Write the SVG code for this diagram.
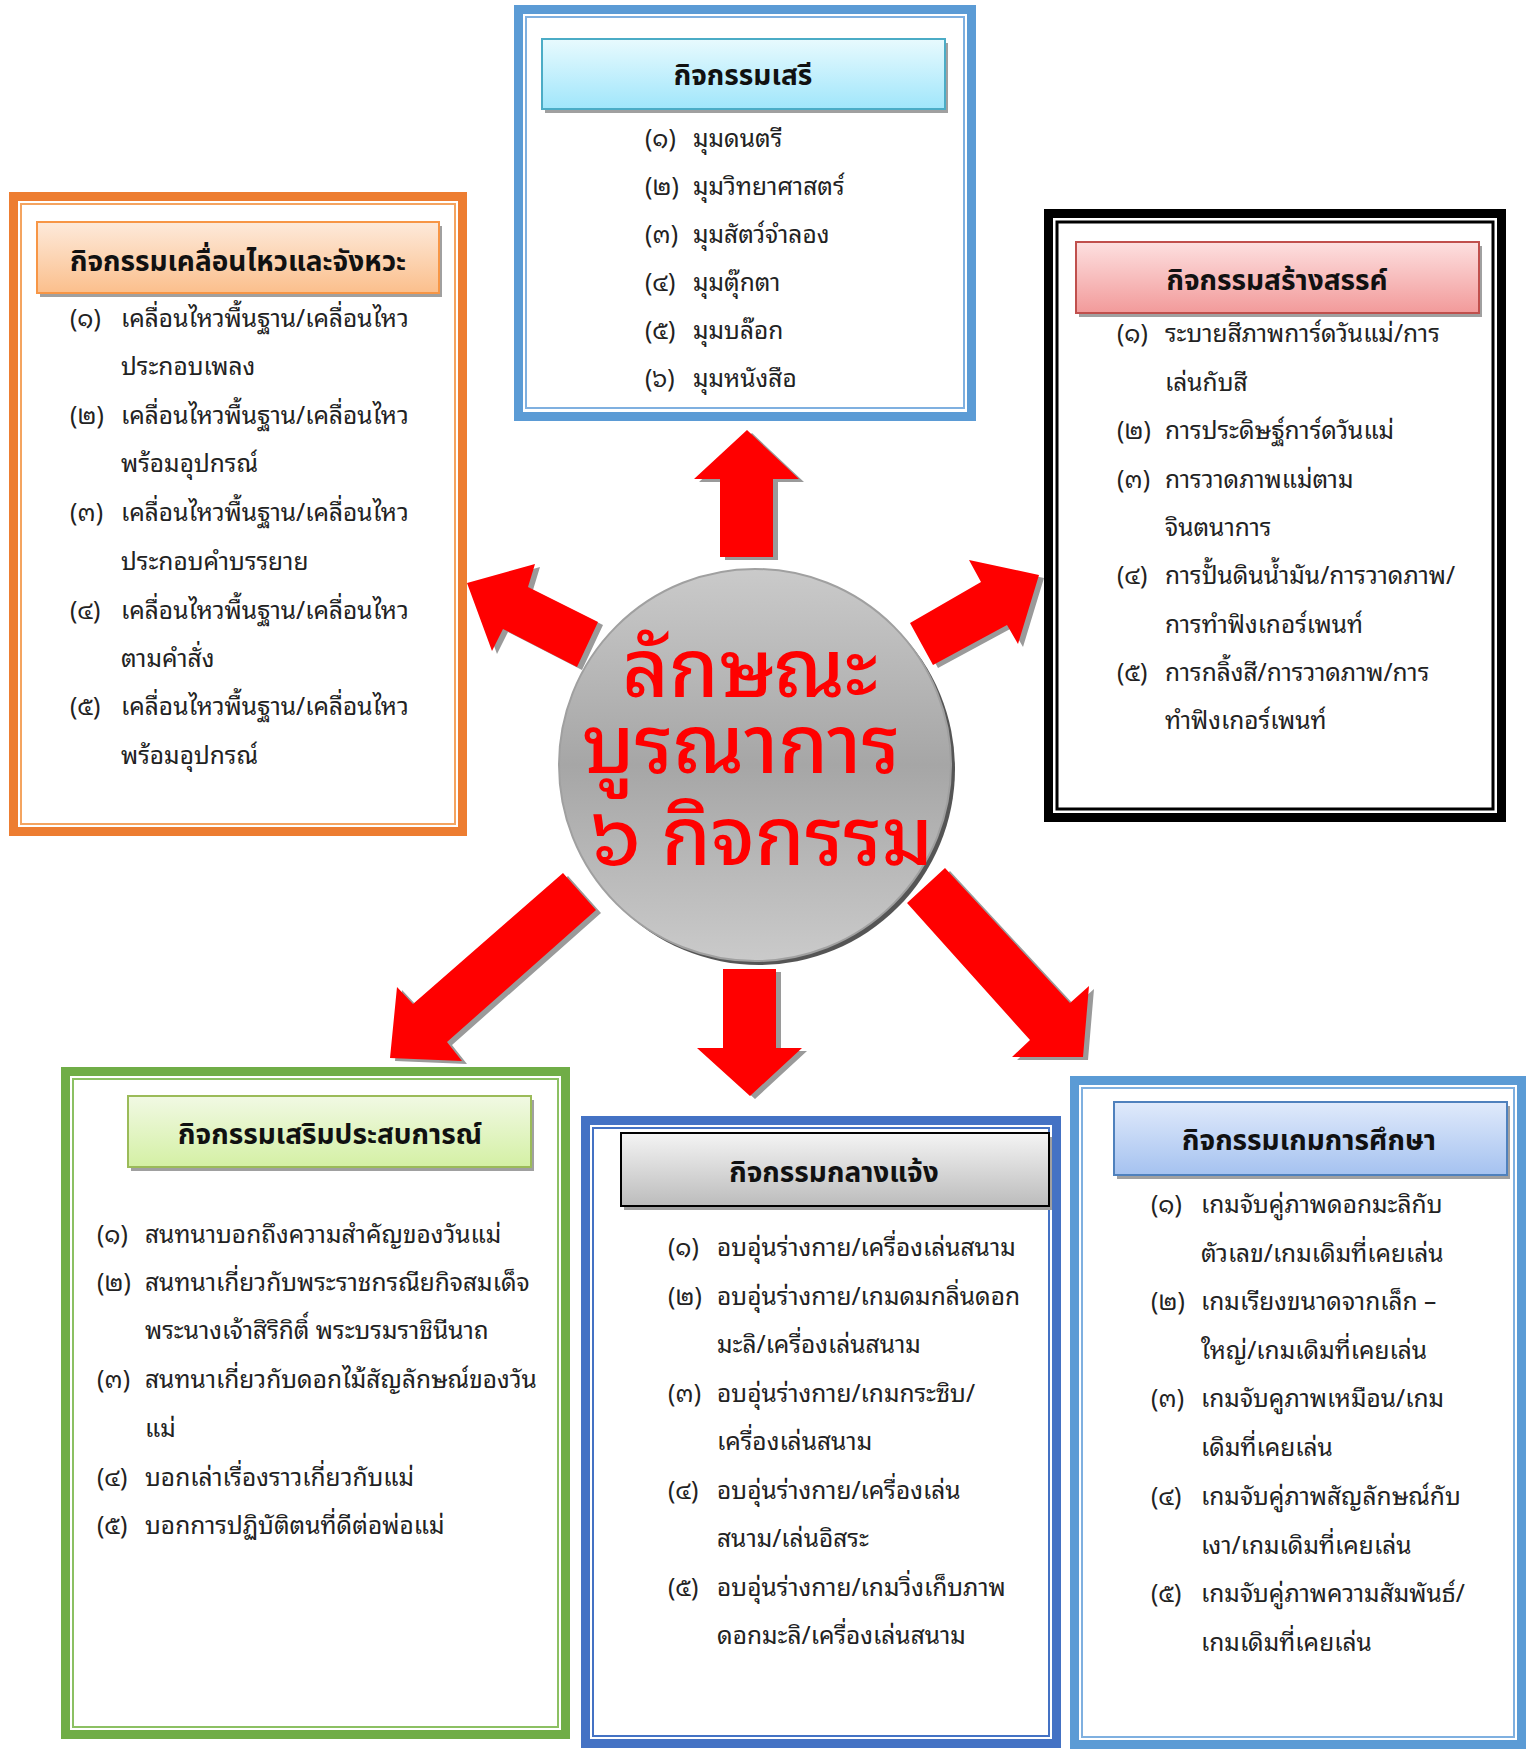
<svg xmlns="http://www.w3.org/2000/svg" width="1527" height="1752" viewBox="0 0 1527 1752">
<defs>
<linearGradient id="gCyan" x1="0" y1="0" x2="0" y2="1"><stop offset="0" stop-color="#e8fafe"/><stop offset="1" stop-color="#a0e6fb"/></linearGradient>
<linearGradient id="gOrange" x1="0" y1="0" x2="0" y2="1"><stop offset="0" stop-color="#fdeadb"/><stop offset="1" stop-color="#fbbf8c"/></linearGradient>
<linearGradient id="gRed" x1="0" y1="0" x2="0" y2="1"><stop offset="0" stop-color="#fde0e0"/><stop offset="1" stop-color="#f29a9a"/></linearGradient>
<linearGradient id="gGreen" x1="0" y1="0" x2="0" y2="1"><stop offset="0" stop-color="#f1f9e4"/><stop offset="1" stop-color="#d4f0a4"/></linearGradient>
<linearGradient id="gGray" x1="0" y1="0" x2="0" y2="1"><stop offset="0" stop-color="#f4f4f4"/><stop offset="1" stop-color="#bcbcbc"/></linearGradient>
<linearGradient id="gBlue" x1="0" y1="0" x2="0" y2="1"><stop offset="0" stop-color="#e0eafb"/><stop offset="1" stop-color="#a5c2f0"/></linearGradient>
<linearGradient id="gCircle" x1="0" y1="0" x2="0" y2="1"><stop offset="0" stop-color="#cacaca"/><stop offset="0.5" stop-color="#a6a6a6"/><stop offset="1" stop-color="#cacaca"/></linearGradient>
</defs>
<style>
.hd{font-family:"Noto Sans Thai","Noto Sans Thai Looped","Noto Sans",sans-serif;font-weight:bold;font-size:28px;fill:#111;text-anchor:middle}
.it{font-family:"Noto Sans Thai Looped","Noto Sans Thai","Noto Sans",sans-serif;font-size:24.5px;fill:#222}
.ctr{font-family:"Noto Sans Thai Looped","Noto Sans Thai","Noto Sans",sans-serif;font-weight:500;font-size:80px;fill:#ff0000;text-anchor:middle}
.arrow{fill:#ff0000}
.ashadow{fill:#9a9a9a}
.hshadow{fill:#a0a0a0}
</style>

<g id="connectors">
  <g transform="translate(5,3)" class="ashadow">
    <polygon points="747,430 799,479 773,479 773,557 720,557 720,479 694,479"/>
    <polygon points="467,583 535,564 528,587 598,622 577,667 503,629 492,651"/>
    <polygon points="1039,575 1018,644 1007,625 933,665 910,623 981,582 969,560"/>
    <polygon points="563,873 596,910 447,1042 462,1061 390,1058 397,987 413,1004"/>
    <polygon points="723,969 776,969 776,1048 802,1048 750,1096 697,1048 723,1048"/>
    <polygon points="945,868 1070,1003 1089,986 1083,1057 1012,1057 1030,1040 907,903"/>
  </g>
  <g class="arrow">
    <polygon points="747,430 799,479 773,479 773,557 720,557 720,479 694,479"/>
    <polygon points="467,583 535,564 528,587 598,622 577,667 503,629 492,651"/>
    <polygon points="1039,575 1018,644 1007,625 933,665 910,623 981,582 969,560"/>
    <polygon points="563,873 596,910 447,1042 462,1061 390,1058 397,987 413,1004"/>
    <polygon points="723,969 776,969 776,1048 802,1048 750,1096 697,1048 723,1048"/>
    <polygon points="945,868 1070,1003 1089,986 1083,1057 1012,1057 1030,1040 907,903"/>
  </g>
</g>

<g id="center">
  <circle cx="759" cy="769" r="196" fill="#555"/>
  <circle cx="755" cy="765" r="196" fill="url(#gCircle)" stroke="#a0a0a0" stroke-width="2"/>
  <text class="ctr" x="750" y="697">ลักษณะ</text>
  <text class="ctr" x="741" y="773">บูรณาการ</text>
  <text class="ctr" x="762" y="865">๖ กิจกรรม</text>
</g>

<g id="free">
  <rect x="518.5" y="9.5" width="453" height="407" fill="#fff" stroke="#5b9bd5" stroke-width="9"/>
  <rect x="526" y="17" width="438" height="391" fill="none" stroke="#7fb0e0" stroke-width="2"/>
  <rect x="545" y="43" width="403" height="70" class="hshadow"/>
  <rect x="542" y="39" width="403" height="70" fill="url(#gCyan)" stroke="#4bacc6" stroke-width="2"/>
  <text class="hd" x="743" y="85">กิจกรรมเสรี</text>
  <text class="it" y="147"><tspan x="645">(๑)</tspan><tspan x="693">มุมดนตรี</tspan></text>
  <text class="it" y="195"><tspan x="645">(๒)</tspan><tspan x="693">มุมวิทยาศาสตร์</tspan></text>
  <text class="it" y="243"><tspan x="645">(๓)</tspan><tspan x="693">มุมสัตว์จำลอง</tspan></text>
  <text class="it" y="291"><tspan x="645">(๔)</tspan><tspan x="693">มุมตุ๊กตา</tspan></text>
  <text class="it" y="339"><tspan x="645">(๕)</tspan><tspan x="693">มุมบล๊อก</tspan></text>
  <text class="it" y="387"><tspan x="645">(๖)</tspan><tspan x="693">มุมหนังสือ</tspan></text>
</g>

<g id="movement">
  <rect x="13.5" y="196.5" width="449" height="635" fill="#fff" stroke="#ed7d31" stroke-width="9"/>
  <rect x="21" y="204" width="434" height="620" fill="none" stroke="#f4a460" stroke-width="2"/>
  <rect x="40" y="226" width="402" height="71" class="hshadow"/>
  <rect x="37" y="222" width="402" height="71" fill="url(#gOrange)" stroke="#f79646" stroke-width="2"/>
  <text class="hd" x="238" y="271">กิจกรรมเคลื่อนไหวและจังหวะ</text>
  <text class="it" y="327"><tspan x="70">(๑)</tspan><tspan x="121">เคลื่อนไหวพื้นฐาน/เคลื่อนไหว</tspan></text>
  <text class="it" y="375" x="121">ประกอบเพลง</text>
  <text class="it" y="424"><tspan x="70">(๒)</tspan><tspan x="121">เคลื่อนไหวพื้นฐาน/เคลื่อนไหว</tspan></text>
  <text class="it" y="472" x="121">พร้อมอุปกรณ์</text>
  <text class="it" y="521"><tspan x="70">(๓)</tspan><tspan x="121">เคลื่อนไหวพื้นฐาน/เคลื่อนไหว</tspan></text>
  <text class="it" y="570" x="121">ประกอบคำบรรยาย</text>
  <text class="it" y="619"><tspan x="70">(๔)</tspan><tspan x="121">เคลื่อนไหวพื้นฐาน/เคลื่อนไหว</tspan></text>
  <text class="it" y="667" x="121">ตามคำสั่ง</text>
  <text class="it" y="715"><tspan x="70">(๕)</tspan><tspan x="121">เคลื่อนไหวพื้นฐาน/เคลื่อนไหว</tspan></text>
  <text class="it" y="764" x="121">พร้อมอุปกรณ์</text>
</g>

<g id="creative">
  <rect x="1048.5" y="213.5" width="453" height="604" fill="#fff" stroke="#000" stroke-width="9"/>
  <rect x="1057" y="222" width="436" height="587" fill="none" stroke="#000" stroke-width="3"/>
  <rect x="1079" y="246" width="403" height="71" class="hshadow"/>
  <rect x="1076" y="242" width="403" height="71" fill="url(#gRed)" stroke="#c0504d" stroke-width="2"/>
  <text class="hd" x="1277" y="290">กิจกรรมสร้างสรรค์</text>
  <text class="it" y="342"><tspan x="1117">(๑)</tspan><tspan x="1165">ระบายสีภาพการ์ดวันแม่/การ</tspan></text>
  <text class="it" y="391" x="1165">เล่นกับสี</text>
  <text class="it" y="439"><tspan x="1117">(๒)</tspan><tspan x="1165">การประดิษฐ์การ์ดวันแม่</tspan></text>
  <text class="it" y="488"><tspan x="1117">(๓)</tspan><tspan x="1165">การวาดภาพแม่ตาม</tspan></text>
  <text class="it" y="536" x="1165">จินตนาการ</text>
  <text class="it" y="584"><tspan x="1117">(๔)</tspan><tspan x="1165">การปั้นดินน้ำมัน/การวาดภาพ/</tspan></text>
  <text class="it" y="633" x="1165">การทำฟิงเกอร์เพนท์</text>
  <text class="it" y="681"><tspan x="1117">(๕)</tspan><tspan x="1165">การกลิ้งสี/การวาดภาพ/การ</tspan></text>
  <text class="it" y="729" x="1165">ทำฟิงเกอร์เพนท์</text>
</g>

<g id="experience">
  <rect x="65.5" y="1071.5" width="500" height="663" fill="#fff" stroke="#70ad47" stroke-width="9"/>
  <rect x="73" y="1079" width="485" height="648" fill="none" stroke="#8cc063" stroke-width="2"/>
  <rect x="131" y="1100" width="403" height="71" class="hshadow"/>
  <rect x="128" y="1096" width="403" height="71" fill="url(#gGreen)" stroke="#9bbb59" stroke-width="2"/>
  <text class="hd" x="330" y="1144">กิจกรรมเสริมประสบการณ์</text>
  <text class="it" y="1243"><tspan x="97">(๑)</tspan><tspan x="145">สนทนาบอกถึงความสำคัญของวันแม่</tspan></text>
  <text class="it" y="1291"><tspan x="97">(๒)</tspan><tspan x="145">สนทนาเกี่ยวกับพระราชกรณียกิจสมเด็จ</tspan></text>
  <text class="it" y="1339" x="145">พระนางเจ้าสิริกิติ์ พระบรมราชินีนาถ</text>
  <text class="it" y="1388"><tspan x="97">(๓)</tspan><tspan x="145">สนทนาเกี่ยวกับดอกไม้สัญลักษณ์ของวัน</tspan></text>
  <text class="it" y="1437" x="145">แม่</text>
  <text class="it" y="1486"><tspan x="97">(๔)</tspan><tspan x="145">บอกเล่าเรื่องราวเกี่ยวกับแม่</tspan></text>
  <text class="it" y="1534"><tspan x="97">(๕)</tspan><tspan x="145">บอกการปฏิบัติตนที่ดีต่อพ่อแม่</tspan></text>
</g>

<g id="outdoor">
  <rect x="585.5" y="1120.5" width="471" height="623" fill="#fff" stroke="#4472c4" stroke-width="9"/>
  <rect x="593" y="1128" width="456" height="608" fill="none" stroke="#4472c4" stroke-width="2"/>
  <rect x="624" y="1137" width="428" height="73" class="hshadow"/>
  <rect x="621" y="1133" width="428" height="73" fill="url(#gGray)" stroke="#000" stroke-width="2"/>
  <text class="hd" x="834" y="1182">กิจกรรมกลางแจ้ง</text>
  <text class="it" y="1256"><tspan x="668">(๑)</tspan><tspan x="717">อบอุ่นร่างกาย/เครื่องเล่นสนาม</tspan></text>
  <text class="it" y="1305"><tspan x="668">(๒)</tspan><tspan x="717">อบอุ่นร่างกาย/เกมดมกลิ่นดอก</tspan></text>
  <text class="it" y="1353" x="717">มะลิ/เครื่องเล่นสนาม</text>
  <text class="it" y="1402"><tspan x="668">(๓)</tspan><tspan x="717">อบอุ่นร่างกาย/เกมกระซิบ/</tspan></text>
  <text class="it" y="1450" x="717">เครื่องเล่นสนาม</text>
  <text class="it" y="1499"><tspan x="668">(๔)</tspan><tspan x="717">อบอุ่นร่างกาย/เครื่องเล่น</tspan></text>
  <text class="it" y="1547" x="717">สนาม/เล่นอิสระ</text>
  <text class="it" y="1596"><tspan x="668">(๕)</tspan><tspan x="717">อบอุ่นร่างกาย/เกมวิ่งเก็บภาพ</tspan></text>
  <text class="it" y="1644" x="717">ดอกมะลิ/เครื่องเล่นสนาม</text>
</g>

<g id="games">
  <rect x="1074.5" y="1080.5" width="447" height="664" fill="#fff" stroke="#5b9bd5" stroke-width="9"/>
  <rect x="1082" y="1088" width="432" height="649" fill="none" stroke="#7fb0e0" stroke-width="2"/>
  <rect x="1117" y="1106" width="393" height="73" class="hshadow"/>
  <rect x="1114" y="1102" width="393" height="73" fill="url(#gBlue)" stroke="#4f81bd" stroke-width="2"/>
  <text class="hd" x="1309" y="1150">กิจกรรมเกมการศึกษา</text>
  <text class="it" y="1213"><tspan x="1151">(๑)</tspan><tspan x="1201">เกมจับคู่ภาพดอกมะลิกับ</tspan></text>
  <text class="it" y="1262" x="1201">ตัวเลข/เกมเดิมที่เคยเล่น</text>
  <text class="it" y="1310"><tspan x="1151">(๒)</tspan><tspan x="1201">เกมเรียงขนาดจากเล็ก –</tspan></text>
  <text class="it" y="1359" x="1201">ใหญ่/เกมเดิมที่เคยเล่น</text>
  <text class="it" y="1407"><tspan x="1151">(๓)</tspan><tspan x="1201">เกมจับคูภาพเหมือน/เกม</tspan></text>
  <text class="it" y="1456" x="1201">เดิมที่เคยเล่น</text>
  <text class="it" y="1505"><tspan x="1151">(๔)</tspan><tspan x="1201">เกมจับคู่ภาพสัญลักษณ์กับ</tspan></text>
  <text class="it" y="1554" x="1201">เงา/เกมเดิมที่เคยเล่น</text>
  <text class="it" y="1602"><tspan x="1151">(๕)</tspan><tspan x="1201">เกมจับคู่ภาพความสัมพันธ์/</tspan></text>
  <text class="it" y="1651" x="1201">เกมเดิมที่เคยเล่น</text>
</g>
</svg>
